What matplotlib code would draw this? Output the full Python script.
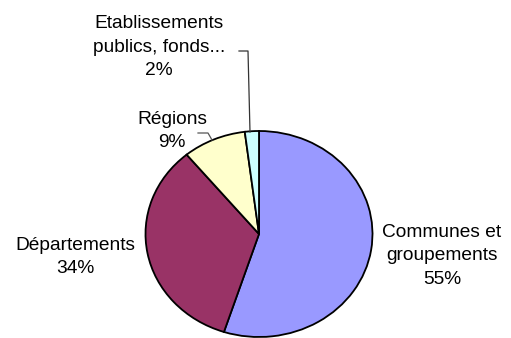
import matplotlib
matplotlib.use("Agg")
import matplotlib.pyplot as plt

labels = ["Communes et\ngroupements", "Départements", "Régions", "Etablissements\npublics, fonds..."]
shares = [55, 34, 9, 2]
colors = ["#9999FF", "#993366", "#FFFFCC", "#CCFFFF"]

plt.rcParams['font.family'] = ['Liberation Sans', 'DejaVu Sans']

W, H = 511, 338
fig = plt.figure(figsize=(W / 100, H / 100), dpi=100)
ax = fig.add_axes([0, 0, 1, 1])

# pie centre and radii in pixels (slightly flattened, like the original)
cx, cy, rx, ry = 259, 234, 113.5, 103

ax.pie(shares, colors=colors, startangle=90, counterclock=False,
       wedgeprops=dict(edgecolor="black", linewidth=1.3))
ax.set_aspect("auto")
ax.set_xlim(-cx / rx, (W - cx) / rx)
ax.set_ylim(-(H - cy) / ry, cy / ry)
ax.axis("off")


def px(x, y):
    return x / W, 1 - y / H


# label positions in pixels
label_pos = [(442, 256), (75, 257), (172, 131), (159, 47)]
for lab, val, (x, y) in zip(labels, shares, label_pos):
    fig.text(*px(x, y), f"{lab}\n{val}%", ha="center", va="center",
             fontsize=13.8, linespacing=1.5, color="black")

# leader lines
def leader(pts, color):
    xs = [p[0] / W for p in pts]
    ys = [1 - p[1] / H for p in pts]
    fig.add_artist(plt.Line2D(xs, ys, color=color, linewidth=0.9,
                              transform=fig.transFigure))

leader([(239, 51), (248, 51), (250, 132)], "#333333")
leader([(198, 133), (208, 133), (212, 140)], "#555555")

fig.savefig("out.png", dpi=100)
